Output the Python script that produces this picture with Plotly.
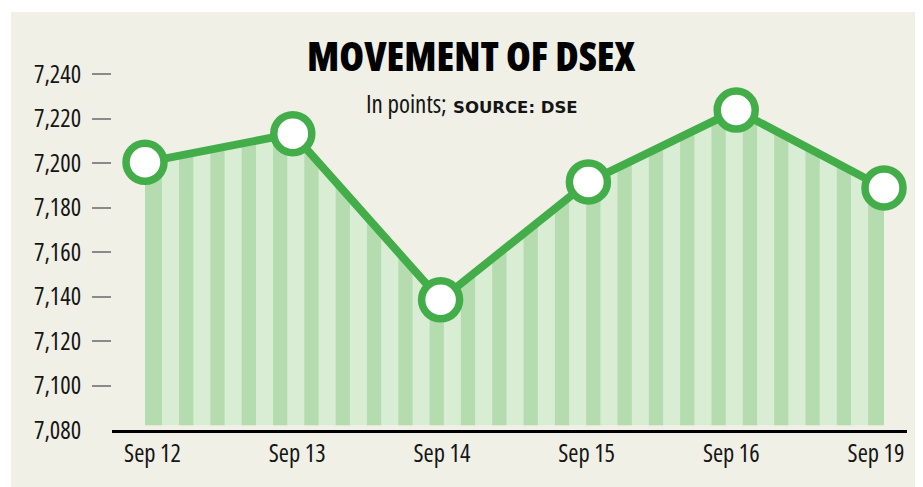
import plotly.graph_objects as go

# ---------------- data ----------------
dates = ["Sep 12", "Sep 13", "Sep 14", "Sep 15", "Sep 16", "Sep 19"]
dsex = [7200.3, 7213.2, 7138.5, 7191.5, 7223.8, 7188.8]
y_tick_vals = [7100, 7120, 7140, 7160, 7180, 7200, 7220, 7240]
y_tick_text = ["7,100", "7,120", "7,140", "7,160", "7,180", "7,200", "7,220", "7,240"]
base_tick_val = [7080]
base_tick_text = ["7,080"]
title_text = "MOVEMENT OF DSEX"
sub_text = "In points;"
source_text = "SOURCE: DSE"

# ---------------- style ----------------
OFF = 8  # page body margin
W, H = 923 - OFF, 487 - OFF
L = 112 - OFF
R = W - (907 - OFF)
T = 74 - OFF
B = H - (430 - OFF)
PW, PH = W - L - R, H - T - B
Y_MIN, Y_MAX = 7080, 7240
X_RANGE = [-0.2233, 5.1556]
X2_RANGE = [-0.2799, 5.2142]

PANEL = "#F0F0E6"
LIGHT = "#D9EDD5"
DARK = "#B5DCAE"
GREEN = "#43AE49"
TICK_GRAY = "#8A8A8A"
TXT = "#151515"
FONT = "Open Sans"

def px_x(px):
    return (px - OFF - L) / PW

def px_y(py):
    return (H - B - (py - OFF)) / PH

def cond(s):
    return '<span style="font-stretch:condensed">' + s + '</span>'

units_per_px = (X_RANGE[1] - X_RANGE[0]) / PW
stripe_period = 31.32 * units_per_px
stripe_width = 14.3 * units_per_px
stripe_offset = 2.7 * units_per_px
stripe_bottom = Y_MIN + 4.7 * (Y_MAX - Y_MIN) / PH
last_x = len(dates) - 1

shapes = [
    dict(type="rect", xref="paper", yref="paper", layer="below",
         x0=px_x(11), x1=px_x(930), y0=px_y(495), y1=px_y(12),
         fillcolor=PANEL, line=dict(width=0)),
    dict(type="rect", xref="x", yref="y", layer="below",
         x0=0, x1=last_x, y0=stripe_bottom, y1=Y_MAX,
         fillcolor=LIGHT, line=dict(width=0)),
]
k = 0
while True:
    x0 = stripe_offset + k * stripe_period
    if x0 >= last_x:
        break
    x1 = x0 + stripe_width
    if last_x - x1 < stripe_period - stripe_width:
        x1 = last_x
    shapes.append(dict(type="rect", xref="x", yref="y", layer="below",
                       x0=(x0 if k else 0), x1=min(x1, last_x),
                       y0=stripe_bottom, y1=Y_MAX,
                       fillcolor=DARK, line=dict(width=0)))
    k += 1

fig = go.Figure()
fig.add_trace(go.Scatter(x=dates, y=[Y_MAX] * len(dates), mode="lines",
                         line=dict(width=0), hoverinfo="skip", showlegend=False))
fig.add_trace(go.Scatter(x=dates, y=dsex, mode="lines", fill="tonexty",
                         fillcolor=PANEL, line=dict(width=0),
                         hoverinfo="skip", showlegend=False))
fig.add_trace(go.Scatter(x=dates, y=dsex, mode="lines+markers",
                         line=dict(color=GREEN, width=8),
                         marker=dict(size=38, color="white",
                                     line=dict(color=GREEN, width=7.5)),
                         cliponaxis=False, showlegend=False))
fig.add_trace(go.Scatter(x=dates, y=dsex, xaxis="x2", yaxis="y2", mode="markers",
                         marker=dict(opacity=0), hoverinfo="skip", showlegend=False))

fig.update_layout(
    width=W, height=H,
    margin=dict(l=L, r=R, t=T, b=B),
    paper_bgcolor="white", plot_bgcolor="rgba(0,0,0,0)",
    shapes=shapes,
    xaxis=dict(type="category", categoryorder="array", categoryarray=dates,
               range=X_RANGE, showline=True, linecolor="black", linewidth=2.7,
               showticklabels=False, ticks="", showgrid=False, zeroline=False,
               fixedrange=True),
    xaxis2=dict(type="category", categoryorder="array", categoryarray=dates,
                overlaying="x", side="bottom", anchor="y2", range=X2_RANGE,
                showline=False, showgrid=False, zeroline=False,
                tickmode="array", tickvals=dates, ticktext=[cond(d) for d in dates],
                ticks="outside", ticklen=2, tickcolor="rgba(0,0,0,0)",
                tickfont=dict(family=FONT, size=24.5, color=TXT)),
    yaxis=dict(range=[Y_MIN, Y_MAX], tickmode="array", tickvals=y_tick_vals,
               ticktext=[cond(t) for t in y_tick_text], ticks="outside", ticklen=19,
               tickwidth=2.2, tickcolor=TICK_GRAY, ticklabelstandoff=6, showgrid=False,
               zeroline=False, showline=False,
               tickfont=dict(family=FONT, size=24.5, color=TXT)),
    yaxis2=dict(range=[Y_MIN, Y_MAX], overlaying="y", side="left", anchor="x",
                tickmode="array", tickvals=base_tick_val,
                ticktext=[cond(t) for t in base_tick_text],
                ticks="outside", ticklen=19, tickwidth=2.2,
                tickcolor="rgba(0,0,0,0)", ticklabelstandoff=6, showgrid=False,
                zeroline=False, showline=False,
                tickfont=dict(family=FONT, size=24.5, color=TXT)),
    annotations=[
        dict(text=cond(title_text), xref="paper", yref="paper", x=px_x(471), y=px_y(55.5),
             xanchor="center", yanchor="middle", showarrow=False,
             font=dict(family=FONT, size=40, color="black", weight=800)),
        dict(text=cond(sub_text), xref="paper", yref="paper", x=px_x(449), y=px_y(103),
             xanchor="right", yanchor="middle", showarrow=False,
             font=dict(family=FONT, size=25, color=TXT)),
        dict(text=source_text, xref="paper", yref="paper", x=px_x(451), y=px_y(107.5),
             xanchor="left", yanchor="middle", showarrow=False,
             font=dict(family="DejaVu Sans", size=16.5, color=TXT, weight=700)),
    ],
)

fig.write_html("out.html")
